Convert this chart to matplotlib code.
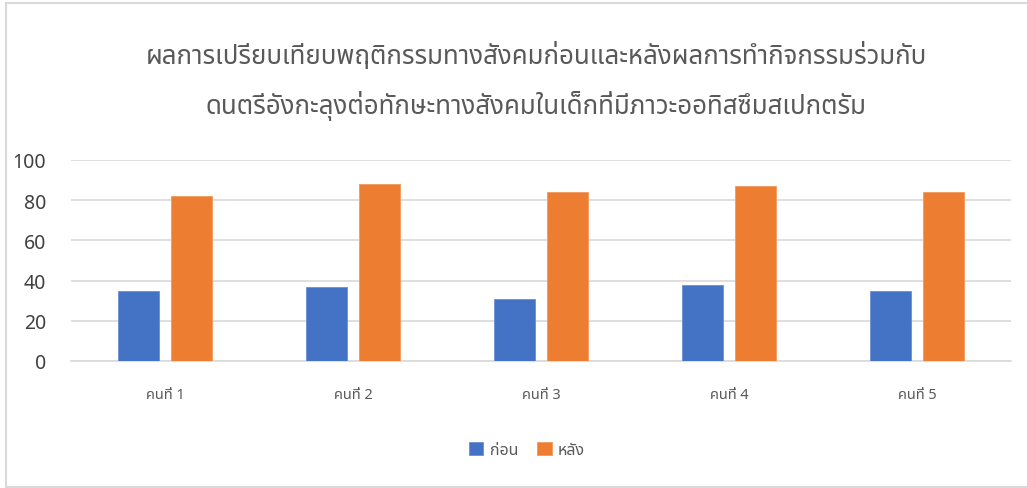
import matplotlib
matplotlib.use("Agg")
import matplotlib.pyplot as plt
from matplotlib import font_manager
from matplotlib.ft2font import FT2Font
from matplotlib.lines import Line2D
import numpy as np

categories = ["คนที่ 1", "คนที่ 2", "คนที่ 3", "คนที่ 4", "คนที่ 5"]
before = [35, 37, 31, 38, 35]
after = [82, 88, 84, 87, 84]
series_names = ["ก่อน", "หลัง"]
title_lines = ["ผลการเปรียบเทียบพฤติกรรมทางสังคมก่อนและหลังผลการทำกิจกรรมร่วมกับ",
               "ดนตรีอังกะลุงต่อทักษะทางสังคมในเด็กที่มีภาวะออทิสซึมสเปกตรัม"]
yticks = [0, 20, 40, 60, 80, 100]

# find a font with Thai glyphs
thai_family = None
cands = []
for f in font_manager.fontManager.ttflist:
    try:
        cm = FT2Font(f.fname).get_charmap()
        if 0x0E01 in cm and 0x0E48 in cm:
            cands.append(f.name)
    except Exception:
        pass
pref = ["Noto Sans Thai", "Noto Sans Thai UI", "Noto Sans", "Tlwg Typist", "Loma", "Garuda"]
for p in pref:
    if p in cands:
        thai_family = p
        break
if thai_family is None and cands:
    thai_family = sorted(set(cands))[0]
fam = [thai_family, "DejaVu Sans"] if thai_family else ["DejaVu Sans"]
plt.rcParams["font.family"] = fam

fig = plt.figure(figsize=(10.27, 4.89), dpi=100)
ax = fig.add_axes([71/1027, 127/489, 940/1027, 201/489])

x = np.arange(len(categories))
w = 0.223
off = 0.141
ax.bar(x - off, before, w, color="#4472C4", edgecolor="#6a8fd6", linewidth=0.6, label=series_names[0], zorder=3)
ax.bar(x + off, after, w, color="#ED7D31", edgecolor="#f19a5e", linewidth=0.6, label=series_names[1], zorder=3)

ax.set_xlim(-0.5, len(categories) - 0.5)
ax.set_ylim(0, 100)
ax.set_yticks(yticks)
ax.set_yticklabels([str(v) for v in yticks], fontsize=14, color="#404040")
ax.set_xticks(x)
ax.set_xticklabels(categories, fontsize=10.5, color="#595959")
ax.tick_params(axis="both", length=0)
ax.tick_params(axis="y", pad=18)
ax.tick_params(axis="x", pad=19)
ax.grid(axis="y", color="#d9d9d9", linewidth=1.2, zorder=0)
for s in ["top", "right", "left"]:
    ax.spines[s].set_visible(False)
ax.spines["bottom"].set_color("#d9d9d9")
ax.spines["bottom"].set_linewidth(1.2)

fig.text(536/1027, 1 - 56/489, title_lines[0], ha="center", va="center", fontsize=18.6, color="#595959")
fig.text(536/1027, 1 - 106/489, title_lines[1], ha="center", va="center", fontsize=18.6, color="#595959")

leg = fig.legend(loc="center", bbox_to_anchor=(527/1027, 1 - 451/489), ncol=2, frameon=False,
                 fontsize=11.5, handlelength=0.9, handleheight=0.9, columnspacing=1.2, handletextpad=0.4)
for t in leg.get_texts():
    t.set_color("#595959")

# border (left, top, bottom)
bc = "#d9d9d9"
xl = 5.5/1027
yt = 1 - 4/489
yb = 1 - 487.5/489
fig.add_artist(Line2D([xl, xl], [yb, yt], transform=fig.transFigure, color=bc, linewidth=1.5))
fig.add_artist(Line2D([xl, 1], [yt, yt], transform=fig.transFigure, color=bc, linewidth=1.5))
fig.add_artist(Line2D([xl, 1], [yb, yb], transform=fig.transFigure, color=bc, linewidth=1.5))

fig.savefig("out.png", dpi=100)
